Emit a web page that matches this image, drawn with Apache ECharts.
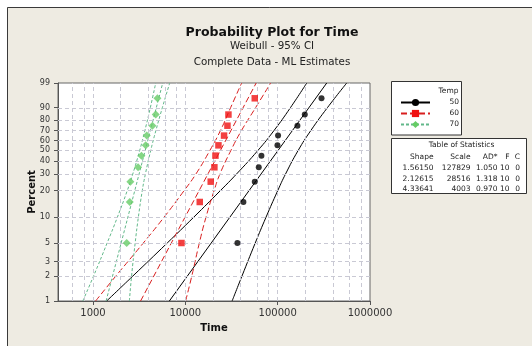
<!DOCTYPE html>
<html><head><meta charset="utf-8">
<script src="https://cdn.jsdelivr.net/npm/echarts@6/dist/echarts.min.js"></script>
<style>html,body{margin:0;padding:0;background:#fff}#c{width:532px;height:346px}</style>
</head><body><div id="c"></div>
<script>
// ---- data ----
const pctTicks = [1, 2, 3, 5, 10, 20, 30, 40, 50, 60, 70, 80, 90, 99];
const timeTicks = [1000, 10000, 100000, 1000000];
const gridTimes = [600, 800, 1000, 2000, 4000, 6000, 8000, 10000, 20000, 40000, 60000, 80000,
                   100000, 200000, 400000, 600000, 800000];
const groupNames = ['50', '60', '70'];
const plotPct = [5, 15, 25, 35, 45, 55, 65, 75, 85, 95];
const time50 = [36640, 42560, 56500, 62400, 66700, 99500, 101000, 163700, 196700, 298500];
const time60 = [9078, 14330, 18840, 20640, 21190, 22840, 26260, 28580, 29300, 56500];
const time70 = [2317, 2500, 2540, 3076, 3345, 3722, 3820, 4405, 4780, 4986];
const fitPct = [1, 99];
const fit50 = [6715, 339900];
const fit60 = [3277, 58500];
const fit70 = [1386, 5692];
const ciPct = [1, 2, 5, 10, 20, 30, 50, 70, 90, 99];
const ci50Lo = [1406, 2692, 6368, 12270, 23910, 35850, 61200, 90960, 137500, 206400];
const ci50Hi = [32110, 41020, 57150, 74660, 100090, 121700, 166900, 227900, 345800, 559800];
const ci60Lo = [1067, 1764, 3508, 5861, 9688, 13020, 18460, 23950, 30920, 40730];
const ci60Hi = [10070, 11740, 14180, 16710, 20480, 23690, 31180, 40450, 57670, 83970];
const ci70Lo = [775, 1013, 1423, 1834, 2349, 2697, 3206, 3642, 4178, 4780];
const ci70Hi = [2478, 2616, 2862, 3097, 3416, 3694, 4220, 4793, 5637, 6778];
const statHeader = ['Shape', 'Scale', 'AD*', 'F', 'C'];
const statShape = ['1.56150', '2.12615', '4.33641'];
const statScale = ['127829', '28516', '4003'];
const statAD = ['1.050', '1.318', '0.970'];
const statF = ['10', '10', '10'];
const statC = ['0', '0', '0'];

// ---- scales (Weibull probability / log10 time) ----
const FONT = 'DejaVu Sans';
function W(p) { return Math.log(-Math.log(1 - p / 100)); }
function L(t) { return Math.log10(t); }
function pts(times, pcts) { return times.map((t, i) => [L(t), W(pcts[i])]); }
const yMin = W(1), yMax = W(99);
const xMin = 2.621, xMax = 6;
function pctLabel(v) {
  for (const p of pctTicks) if (Math.abs(W(p) - v) < 1e-6) return String(p);
  return '';
}

const groups = [
  {name: groupNames[0], color: '#000000', lcolor: '#000000', dash: 'solid', symbol: 'circle', size: 6,
   pts: time50, fit: fit50, lo: ci50Lo, hi: ci50Hi},
  {name: groupNames[1], color: '#f01010', lcolor: '#d81e1e', dash: [6, 3], symbol: 'rect', size: 6.5,
   pts: time60, fit: fit60, lo: ci60Lo, hi: ci60Hi},
  {name: groupNames[2], color: '#66cc66', lcolor: '#62b88a', dash: [3, 2], symbol: 'diamond', size: 8,
   pts: time70, fit: fit70, lo: ci70Lo, hi: ci70Hi}
];

const gridLineStyle = {color: '#c9c9d4', width: 1, type: [4, 3]};
const markData = [];
gridTimes.forEach(t => markData.push({xAxis: L(t)}));
pctTicks.slice(1, -1).forEach(p => markData.push({yAxis: W(p)}));

const series = [{
  name: 'grid', type: 'line', data: [[3, -1]], symbol: 'none', silent: true, z: 1,
  lineStyle: {opacity: 0},
  markLine: {silent: true, symbol: ['none', 'none'], label: {show: false}, animation: false,
             lineStyle: gridLineStyle, data: markData}
}];
groups.forEach(g => {
  series.push({name: g.name, type: 'line', data: pts(g.fit, fitPct), symbol: g.symbol,
    showSymbol: false, silent: true, z: 3,
    lineStyle: {color: g.lcolor, width: 1, type: g.dash}, itemStyle: {color: g.color}});
  series.push({name: g.name, type: 'line', data: pts(g.lo, ciPct), smooth: true, symbol: 'none',
    silent: true, z: 3, lineStyle: {color: g.lcolor, width: 1, type: g.dash}});
  series.push({name: g.name, type: 'line', data: pts(g.hi, ciPct), smooth: true, symbol: 'none',
    silent: true, z: 3, lineStyle: {color: g.lcolor, width: 1, type: g.dash}});
  series.push({name: g.name, type: 'scatter', data: pts(g.pts, plotPct), symbol: g.symbol,
    symbolSize: g.size, z: 5, itemStyle: {color: g.color}});
});

// ---- statistics table (text) ----
const tf = '7.5px "DejaVu Sans"';
const graphic = [
  {type: 'rect', shape: {x: 0, y: 0, width: 532, height: 7}, style: {fill: '#fff'}, silent: true},
  {type: 'rect', shape: {x: 0, y: 0, width: 7, height: 346}, style: {fill: '#fff'}, silent: true},
  {type: 'polyline', shape: {points: [[7.5, 346], [7.5, 7.5], [532, 7.5]]},
   style: {stroke: '#3a3a3a', lineWidth: 1, fill: null}, silent: true},
  {type: 'rect', shape: {x: 391.5, y: 81.5, width: 70, height: 53.5},
   style: {fill: '#fff', stroke: '#333', lineWidth: 1}, silent: true, z: 0},
  {type: 'rect', shape: {x: 391.5, y: 138.5, width: 135, height: 55},
   style: {fill: '#fff', stroke: '#333', lineWidth: 1}, silent: true, z: 0},
  {type: 'text', z: 10, style: {text: 'Temp', x: 458.5, y: 91.5, align: 'right', verticalAlign: 'middle',
   font: tf, fill: '#222'}},
  {type: 'text', z: 10, style: {text: 'Table of Statistics', x: 461.5, y: 145, align: 'center',
   verticalAlign: 'middle', font: tf, fill: '#222'}}
];
const colRight = [433.5, 470.5, 497.5, 509.5, 520];
const rowY = [156.8, 168.3, 178.7, 189];
statHeader.forEach((h, j) => graphic.push({type: 'text', z: 10, style: {text: h, x: colRight[j], y: rowY[0],
  align: 'right', verticalAlign: 'middle', font: tf, fill: '#222'}}));
[statShape, statScale, statAD, statF, statC].forEach((col, j) => col.forEach((v, i) =>
  graphic.push({type: 'text', z: 10, style: {text: v, x: colRight[j], y: rowY[i + 1],
    align: 'right', verticalAlign: 'middle', font: tf, fill: '#222'}})));

const chart = echarts.init(document.getElementById('c'), null, {renderer: 'canvas'});
chart.setOption({
  animation: false,
  backgroundColor: '#eeebe2',
  title: [
    {text: 'Probability Plot for Time', left: 272, top: 26, textAlign: 'center', padding: 0,
     textStyle: {fontFamily: FONT, fontWeight: 'bold', fontSize: 12.5, color: '#111'}},
    {text: 'Weibull - 95% CI', left: 272, top: 41.5, textAlign: 'center', padding: 0,
     textStyle: {fontFamily: FONT, fontWeight: 'normal', fontSize: 10.3, color: '#222'}},
    {text: 'Complete Data - ML Estimates', left: 272, top: 57, textAlign: 'center', padding: 0,
     textStyle: {fontFamily: FONT, fontWeight: 'normal', fontSize: 10.3, color: '#222'}}
  ],
  legend: {
    data: groupNames, orient: 'vertical', left: 400, top: 98.5, padding: 0,
    itemWidth: 29, itemHeight: 9, itemGap: 3, z: 10,
    formatter: n => '{r|' + n + '}',
    textStyle: {fontFamily: FONT, fontSize: 7.5, color: '#222',
      rich: {r: {width: 24, align: 'right', fontFamily: FONT, fontSize: 7.5, color: '#222'}}}
  },
  grid: {left: 58, top: 83, right: 162, bottom: 45, show: true, backgroundColor: '#ffffff',
         borderColor: '#666', borderWidth: 1},
  xAxis: {
    type: 'value', min: xMin, max: xMax,
    name: 'Time', nameLocation: 'middle', nameGap: 22, nameMoveOverlap: false,
    nameTextStyle: {fontFamily: FONT, fontWeight: 'bold', fontSize: 10, color: '#111'},
    axisLine: {show: true, onZero: false, lineStyle: {color: '#555', width: 1}},
    axisTick: {show: true, length: 4, customValues: timeTicks.map(L), lineStyle: {color: '#555'}},
    axisLabel: {customValues: timeTicks.map(L), margin: 7, fontFamily: FONT, fontSize: 10, color: '#333',
      formatter: v => String(Math.round(Math.pow(10, v)))},
    splitLine: {show: false}
  },
  yAxis: {
    type: 'value', min: yMin, max: yMax,
    name: 'Percent', nameLocation: 'middle', nameGap: 21, nameMoveOverlap: false,
    nameTextStyle: {fontFamily: FONT, fontWeight: 'bold', fontSize: 10, color: '#111'},
    axisLine: {show: true, onZero: false, lineStyle: {color: '#555', width: 1}},
    axisTick: {show: true, length: 4, customValues: pctTicks.map(W), lineStyle: {color: '#555'}},
    axisLabel: {customValues: pctTicks.map(W), margin: 8, fontFamily: FONT, fontSize: 8, color: '#333',
      formatter: v => pctLabel(v)},
    splitLine: {show: false}
  },
  graphic: graphic,
  series: series
});
</script></body></html>
